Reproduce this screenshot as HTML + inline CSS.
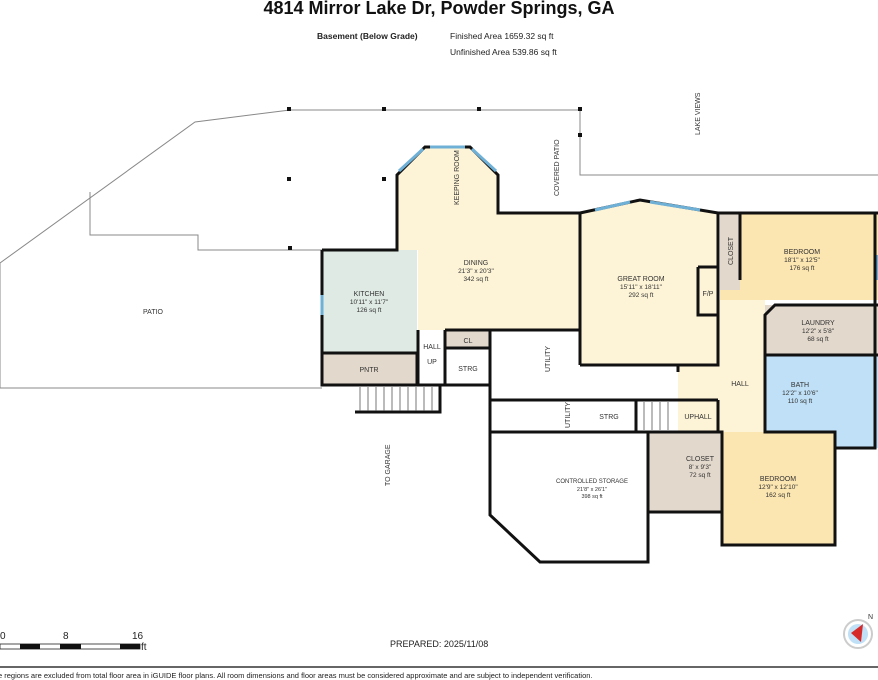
<!DOCTYPE html>
<html><head><meta charset="utf-8"><style>
html,body{margin:0;padding:0;background:#fff;}
svg{display:block;font-family:"Liberation Sans",sans-serif;}
</style></head><body>
<svg width="878" height="680" viewBox="0 0 878 680" xmlns="http://www.w3.org/2000/svg">
<text x="439" y="14" font-size="18" font-weight="bold" text-anchor="middle" fill="#111">4814 Mirror Lake Dr, Powder Springs, GA</text>
<text x="317" y="39" font-size="8.5" font-weight="bold" fill="#222">Basement (Below Grade)</text>
<text x="450" y="39" font-size="8.5" fill="#222">Finished Area 1659.32 sq ft</text>
<text x="450" y="55" font-size="8.5" fill="#222">Unfinished Area 539.86 sq ft</text>

<!-- patio outlines -->
<g fill="none" stroke="#888" stroke-width="1">
<polyline points="322,388 0,388 0,263 195,122 290,110 580,110 580,175 878,175"/>
<polyline points="90,192 90,235 198,235 198,250 322,250"/>
</g>
<g fill="#111">
<rect x="287" y="107" width="4" height="4"/><rect x="382" y="107" width="4" height="4"/><rect x="477" y="107" width="4" height="4"/><rect x="578" y="107" width="4" height="4"/>
<rect x="287" y="177" width="4" height="4"/><rect x="382" y="177" width="4" height="4"/><rect x="288" y="246" width="4" height="4"/>
<rect x="578" y="133" width="4" height="4"/>
</g>
<text x="153" y="314" font-size="7" text-anchor="middle" fill="#333">PATIO</text>
<text font-size="7" fill="#333" transform="translate(700,135) rotate(-90)">LAKE VIEWS</text>
<text font-size="7" fill="#333" transform="translate(559,196) rotate(-90)">COVERED PATIO</text>
<text font-size="7" fill="#333" transform="translate(390,486) rotate(-90)">TO GARAGE</text>

<!-- controlled storage -->
<polyline points="490,330 490,515 540,562 648,562 648,432" fill="none" stroke="#111" stroke-width="3"/>
<text x="592" y="483" font-size="6" text-anchor="middle" fill="#333">CONTROLLED STORAGE</text>
<text x="592" y="491" font-size="5.5" text-anchor="middle" fill="#333">21'8" x 26'1"</text>
<text x="592" y="498" font-size="5.5" text-anchor="middle" fill="#333">398 sq ft</text>
<text font-size="7" fill="#333" transform="translate(550,372) rotate(-90)">UTILITY</text>
<text font-size="7" fill="#333" transform="translate(570,428) rotate(-90)">UTILITY</text>

<!-- rooms fills -->
<polygon points="397,250 397,175 425,147 470,147 498,175 498,213 580,213 580,330 418,330 418,250" fill="#fdf3d6"/>
<rect x="322" y="250" width="95" height="103" fill="#dfeae4"/>
<rect x="322" y="353" width="95" height="32" fill="#e2d8cc"/>
<rect x="445" y="330" width="45" height="18" fill="#e2d8cc"/>
<polygon points="580,213 640,200 718,213 718,365 580,365" fill="#fdf3d6"/>
<rect x="720" y="213" width="158" height="87" fill="#fbe5b0"/>
<rect x="720" y="213" width="20" height="77" fill="#e2d8cc"/>
<rect x="765" y="305" width="113" height="50" fill="#e2d8cc"/>
<rect x="765" y="355" width="113" height="93" fill="#bfe0f6"/>
<rect x="718" y="300" width="47" height="132" fill="#fdf3d6"/>
<rect x="678" y="365" width="42" height="35" fill="#fdf3d6"/>
<rect x="678" y="400" width="40" height="32" fill="#fdf3d6"/>
<rect x="648" y="432" width="74" height="80" fill="#e2d8cc"/>
<rect x="722" y="432" width="113" height="113" fill="#fbe5b0"/>

<!-- walls -->
<g fill="none" stroke="#111" stroke-width="3">
<polyline points="418,330 418,385 445,385 445,330"/>
<polyline points="322,250 322,385 417,385 417,353 322,353"/>
<polyline points="322,250 397,250 397,175 425,147 470,147 498,175 498,213 580,213"/>
<polyline points="445,348 490,348 490,330 445,330"/>
<line x1="445" y1="385" x2="490" y2="385"/>
<polyline points="580,213 640,200 718,213 878,213"/>
<line x1="580" y1="213" x2="580" y2="365"/>
<polyline points="580,365 718,365 718,213"/>
<polyline points="698,267 718,267 718,315 698,315 698,267"/>
<line x1="740" y1="213" x2="740" y2="280"/>
<polyline points="765,355 765,315 775,305 878,305"/>
<line x1="765" y1="355" x2="878" y2="355"/>
<polyline points="765,355 765,432 835,432 835,545 722,545 722,432 648,432 648,512 722,512"/>
<polyline points="835,432 835,448 875,448 875,213"/>
<line x1="490" y1="400" x2="718" y2="400"/>
<line x1="490" y1="432" x2="722" y2="432"/>
<line x1="636" y1="400" x2="636" y2="432"/>
<line x1="718" y1="400" x2="718" y2="432"/>
<line x1="678" y1="365" x2="678" y2="372"/>
<line x1="490" y1="330" x2="580" y2="330"/>
<polyline points="355,412 440,412 440,385"/>
</g>
<!-- windows -->
<g stroke="#6fb0d6" stroke-width="3">
<line x1="399" y1="171" x2="423" y2="149"/><line x1="430" y1="147" x2="465" y2="147"/><line x1="472" y1="149" x2="496" y2="171"/>
<line x1="595" y1="210" x2="630" y2="202"/><line x1="650" y1="202" x2="700" y2="210"/>
<line x1="322" y1="295" x2="322" y2="315"/><line x1="878" y1="255" x2="878" y2="280"/>
</g>
<!-- stairs -->
<g stroke="#555" stroke-width="0.8">
<line x1="360" y1="387" x2="360" y2="411"/><line x1="368" y1="387" x2="368" y2="411"/><line x1="376" y1="387" x2="376" y2="411"/><line x1="384" y1="387" x2="384" y2="411"/><line x1="392" y1="387" x2="392" y2="411"/><line x1="400" y1="387" x2="400" y2="411"/><line x1="408" y1="387" x2="408" y2="411"/><line x1="416" y1="387" x2="416" y2="411"/><line x1="424" y1="387" x2="424" y2="411"/><line x1="432" y1="387" x2="432" y2="411"/>
<line x1="644" y1="402" x2="644" y2="430"/><line x1="652" y1="402" x2="652" y2="430"/><line x1="660" y1="402" x2="660" y2="430"/><line x1="668" y1="402" x2="668" y2="430"/>
</g>
<!-- labels -->
<g font-size="7" fill="#333" text-anchor="middle">
<text x="369" y="296">KITCHEN</text><text x="369" y="304" font-size="6.5">10'11" x 11'7"</text><text x="369" y="312" font-size="6.5">126 sq ft</text>
<text x="369" y="372">PNTR</text>
<text x="476" y="265">DINING</text><text x="476" y="273" font-size="6.5">21'3" x 20'3"</text><text x="476" y="281" font-size="6.5">342 sq ft</text>
<text x="432" y="349">HALL</text><text x="432" y="364">UP</text>
<text x="468" y="343">CL</text><text x="468" y="371">STRG</text>
<text x="641" y="281">GREAT ROOM</text><text x="641" y="289" font-size="6.5">15'11" x 18'11"</text><text x="641" y="297" font-size="6.5">292 sq ft</text>
<text x="708" y="296">F/P</text>
<text x="802" y="254">BEDROOM</text><text x="802" y="262" font-size="6.5">18'1" x 12'5"</text><text x="802" y="270" font-size="6.5">176 sq ft</text>
<text x="818" y="325">LAUNDRY</text><text x="818" y="333" font-size="6.5">12'2" x 5'8"</text><text x="818" y="341" font-size="6.5">68 sq ft</text>
<text x="740" y="386">HALL</text>
<text x="800" y="387">BATH</text><text x="800" y="395" font-size="6.5">12'2" x 10'6"</text><text x="800" y="403" font-size="6.5">110 sq ft</text>
<text x="609" y="419">STRG</text><text x="698" y="419">UPHALL</text>
<text x="700" y="461">CLOSET</text><text x="700" y="469" font-size="6.5">8' x 9'3"</text><text x="700" y="477" font-size="6.5">72 sq ft</text>
<text x="778" y="481">BEDROOM</text><text x="778" y="489" font-size="6.5">12'9" x 12'10"</text><text x="778" y="497" font-size="6.5">162 sq ft</text>
</g>
<text font-size="7" fill="#333" transform="translate(459,205) rotate(-90)">KEEPING ROOM</text>
<text font-size="7" fill="#333" transform="translate(733,265) rotate(-90)">CLOSET</text>

<!-- scale -->
<g font-size="10" fill="#222">
<text x="0" y="639">0</text><text x="63" y="639">8</text><text x="132" y="639">16</text><text x="141" y="650">ft</text>
</g>
<rect x="0" y="644" width="140" height="5" fill="#fff" stroke="#222" stroke-width="0.8"/>
<rect x="20" y="644" width="20" height="5" fill="#111"/><rect x="60" y="644" width="21" height="5" fill="#111"/><rect x="120" y="644" width="20" height="5" fill="#111"/>
<text x="390" y="647" font-size="9" fill="#222">PREPARED: 2025/11/08</text>
<circle cx="858" cy="634" r="14" fill="#fff" stroke="#ccc" stroke-width="2"/>
<circle cx="858" cy="634" r="10" fill="#bfe0f6"/>
<polygon points="863,624 861,642 851,633" fill="#d62a2a"/>
<text x="868" y="619" font-size="7" fill="#333">N</text>
<line x1="0" y1="667" x2="878" y2="667" stroke="#333" stroke-width="1.5"/>
<text x="-2" y="678" font-size="7.5" fill="#222">e regions are excluded from total floor area in iGUIDE floor plans. All room dimensions and floor areas must be considered approximate and are subject to independent verification.</text>
</svg>
</body></html>
